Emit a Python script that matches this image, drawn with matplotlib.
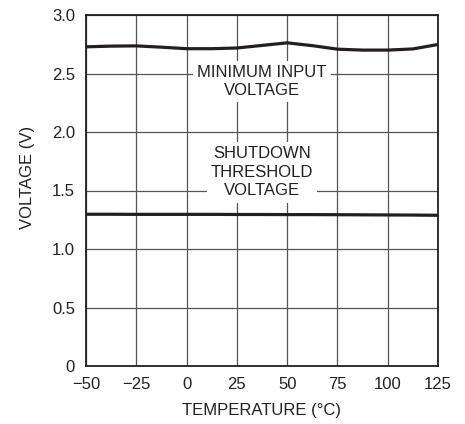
import matplotlib
matplotlib.use('Agg')
import matplotlib.pyplot as plt
import numpy as np

plt.rcParams['font.family'] = ['Liberation Sans Narrow', 'Liberation Sans', 'DejaVu Sans']

# temperature points
temp = [-50, -37.5, -25, -12.5, 0, 12.5, 25, 37.5, 50, 62.5, 75, 87.5, 100, 112.5, 125]
vmin_input = [2.728, 2.734, 2.736, 2.725, 2.712, 2.712, 2.718, 2.74, 2.762, 2.738, 2.708, 2.700, 2.700, 2.710, 2.748]
v_shutdown = [1.297, 1.297, 1.296, 1.296, 1.296, 1.296, 1.295, 1.295, 1.294, 1.294, 1.293, 1.292, 1.291, 1.290, 1.288]

xticks = [-50, -25, 0, 25, 50, 75, 100, 125]
xlabels = ['\u221250', '\u221225', '0', '25', '50', '75', '100', '125']
yticks = [0, 0.5, 1.0, 1.5, 2.0, 2.5, 3.0]
ylabels = ['0', '0.5', '1.0', '1.5', '2.0', '2.5', '3.0']

fig = plt.figure(figsize=(4.65, 4.24), dpi=100)
ax = fig.add_axes([86/465, 1 - 366/424, 352/465, 351/424])

ax.plot(temp, vmin_input, color='#231f20', lw=2.3, zorder=3)
ax.plot(temp, v_shutdown, color='#231f20', lw=2.3, zorder=3)

ax.set_xlim(-50, 125)
ax.set_ylim(0, 3.0)
ax.set_xticks(xticks)
ax.set_xticklabels(xlabels)
ax.set_yticks(yticks)
ax.set_yticklabels(ylabels)
ax.tick_params(length=0, labelsize=12, colors='#231f20')
ax.tick_params(axis='x', pad=8)
ax.tick_params(axis='y', pad=8)
ax.grid(True, color='#555555', lw=0.9)
ax.set_axisbelow(True)
for s in ax.spines.values():
    s.set_linewidth(1.3)
    s.set_color('#231f20')

ax.set_xlabel('TEMPERATURE (\u00b0C)', fontsize=12, color='#231f20')
ax.xaxis.set_label_coords(0.5, -(410 - 366) / 351, transform=ax.transAxes)
ax.xaxis.label.set_va('center')
ax.set_ylabel('VOLTAGE (V)', fontsize=12, color='#231f20')
ax.yaxis.set_label_coords((28 - 86) / 352, (366 - 177) / 351, transform=ax.transAxes)
ax.yaxis.label.set_va('center')

box = dict(facecolor='white', edgecolor='none', pad=3)
ax.text(37.5, 2.43, 'MINIMUM INPUT\nVOLTAGE', ha='center', va='center', fontsize=12,
        color='#231f20', linespacing=1.2, bbox=box, zorder=2)
ax.text(37.5, 1.655, 'SHUTDOWN\nTHRESHOLD\nVOLTAGE', ha='center', va='center', fontsize=12,
        color='#231f20', linespacing=1.3, bbox=box, zorder=2)

fig.savefig('out.png', dpi=100)
